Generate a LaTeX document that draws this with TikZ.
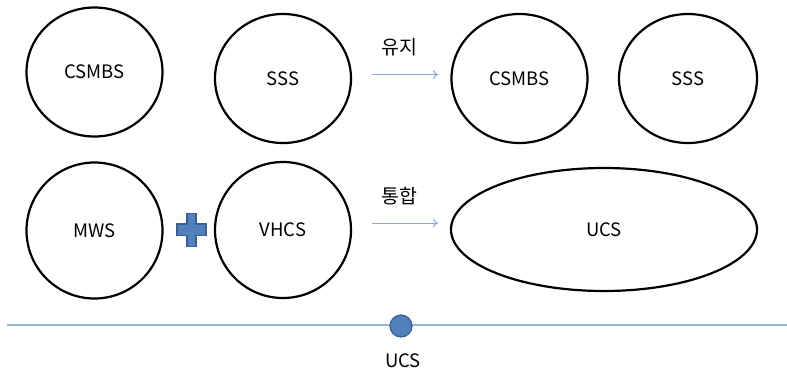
\documentclass[tikz,border=0pt]{standalone}
\usepackage{fontspec}
\setmainfont{Noto Sans CJK KR}
\usetikzlibrary{shapes.geometric,arrows.meta}
\definecolor{plusfill}{HTML}{4F81BD}
\definecolor{plusedge}{HTML}{3A5F8F}
\definecolor{arrowblue}{HTML}{8EA9D6}
\definecolor{axisblue}{HTML}{95B3D7}
\tikzset{
  scheme/.style={draw=black, line width=2.2pt, ellipse, inner sep=0pt,
    minimum width=136pt, minimum height=129pt, font=\fontsize{18.5}{21}\selectfont},
  conn/.style={draw=arrowblue, line width=1pt, -{To[length=5pt,width=9pt]}},
  caption/.style={font=\fontsize{19.5}{22}\selectfont, inner sep=0pt},
  marker/.style={circle, fill=plusfill, draw=plusedge, line width=1.2pt,
    minimum size=22pt, inner sep=0pt},
}
\begin{document}
\begin{tikzpicture}[x=1pt, y=-1pt]
  \useasboundingbox (0,0) rectangle (787,376);

  % current schemes
  \node[scheme] (csmbsA) at (94.5,72) {CSMBS};
  \node[scheme] (sssA)   at (283,78.5) {SSS};
  \node[scheme, minimum height=136pt] (mws)  at (94.5,230.5) {MWS};
  \node[scheme, minimum height=136pt] (vhcs) at (283,230) {VHCS};

  % plus sign between MWS and VHCS
  \node (plus) at (191.5,230) {};
  \filldraw[fill=plusfill, draw=plusedge, line width=1.2pt]
    (187,213.5) -- (196,213.5) -- (196,224) -- (206,224) -- (206,235.5)
    -- (196,235.5) -- (196,246.5) -- (187,246.5) -- (187,235.5)
    -- (177,235.5) -- (177,224) -- (187,224) -- cycle;

  % resulting schemes
  \node[scheme] (csmbsB) at (519.5,78.5) {CSMBS};
  \node[scheme, minimum width=138pt] (sssB) at (688,78.5) {SSS};
  \node[scheme, minimum width=306pt, minimum height=123pt] (ucs) at (604,229.5) {UCS};

  % transitions
  \coordinate (keepS) at (372,74.5);
  \coordinate (keepE) at (438,74.5);
  \coordinate (mergeS) at (372,223);
  \coordinate (mergeE) at (438,223);
  \draw[conn] (keepS) -- (keepE);
  \draw[conn] (mergeS) -- (mergeE);
  \node[caption] (keep)  at (399,47) {유지};
  \node[caption] (merge) at (399,196) {통합};

  % timeline
  \coordinate (tlS) at (7,325);
  \coordinate (tlE) at (787,325);
  \draw[axisblue, line width=1.5pt] (tlS) -- (tlE);
  \node[marker] (dot) at (401,326) {};
  \node[caption, font=\fontsize{18.5}{21}\selectfont] (ucsLabel) at (403,361) {UCS};
\end{tikzpicture}
\end{document}
